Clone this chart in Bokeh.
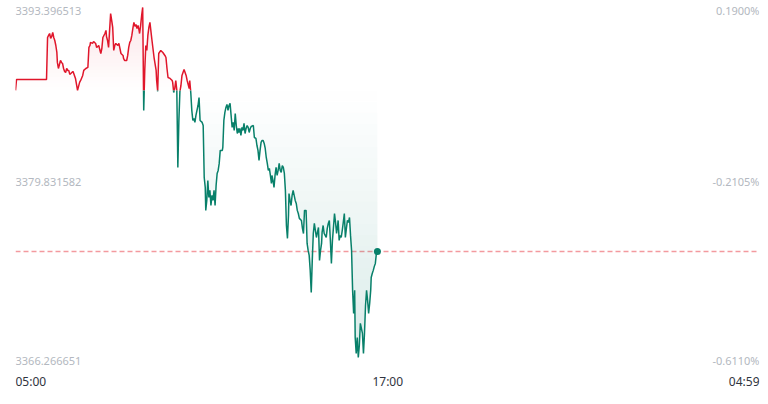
import numpy as np
from bokeh.plotting import figure
from bokeh.models import Range1d, Span
from bokeh.embed import file_html
from bokeh.resources import INLINE
from bokeh.core.properties import value

# ---------------- data (minutes after 05:00, price) ----------------
minutes = [0, 2, 60, 62, 64, 66, 68, 70, 72, 74, 76, 78, 80, 81, 83, 85, 87, 89, 91, 93,
           95, 97, 99, 101, 103, 105, 107, 111, 112, 114, 116, 118, 120, 122, 124, 126, 130, 132, 136, 140,
           142, 144, 145, 149, 151, 155, 157, 161, 165, 167, 169, 173, 175, 176, 178, 180, 182, 184, 186, 188,
           190, 192, 194, 198, 200, 202, 204, 208, 209, 211, 215, 217, 219, 221, 223, 225, 227, 229, 231, 233,
           235, 237, 239, 240, 242, 244, 246, 248, 250, 252, 254, 256, 258, 260, 264, 268, 272, 273, 275, 277,
           281, 285, 289, 291, 293, 295, 299, 303, 304, 306, 308, 310, 312, 314, 316, 318, 320, 322, 326, 330,
           332, 336, 337, 339, 341, 343, 345, 347, 349, 353, 355, 357, 361, 363, 365, 367, 368, 370, 372, 374,
           376, 378, 380, 382, 384, 386, 388, 390, 392, 394, 396, 400, 401, 403, 405, 407, 409, 411, 413, 415,
           417, 419, 421, 423, 425, 427, 429, 431, 432, 434, 436, 438, 440, 442, 444, 446, 448, 450, 452, 454,
           456, 460, 462, 465, 467, 469, 471, 473, 475, 477, 479, 481, 483, 485, 487, 489, 491, 493, 495, 496,
           498, 500, 502, 504, 506, 508, 510, 512, 514, 516, 518, 520, 522, 524, 526, 528, 529, 531, 533, 535,
           537, 539, 541, 543, 545, 547, 549, 553, 555, 557, 559, 562, 564, 566, 568, 570, 572, 574, 576, 578,
           580, 582, 584, 586, 588, 590, 592, 593, 595, 597, 599, 601, 603, 605, 607, 609, 611, 613, 615, 617,
           619, 621, 623, 624, 626, 628, 630, 632, 634, 636, 638, 640, 642, 644, 646, 648, 650, 652, 654, 656,
           657, 659, 661, 663, 665, 667, 669, 671, 673, 675, 677, 679, 681, 683, 685, 687, 688, 690, 692, 694,
           696, 698, 700]

prices = [3386.97, 3387.82, 3387.82, 3391.07, 3391.23, 3391.38, 3391.00, 3391.15, 3391.46, 3391.07,
          3390.84, 3390.45, 3389.91, 3389.14, 3388.67, 3388.98, 3389.29, 3389.14, 3389.06, 3388.67,
          3388.44, 3388.36, 3388.67, 3388.52, 3388.52, 3388.21, 3388.28, 3388.44, 3388.36, 3388.13,
          3387.90, 3387.43, 3386.97, 3387.28, 3387.59, 3387.74, 3388.13, 3388.52, 3388.67, 3388.75,
          3390.30, 3390.45, 3390.69, 3390.61, 3390.76, 3390.61, 3390.30, 3390.45, 3389.83, 3390.22,
          3391.07, 3391.38, 3391.62, 3391.15, 3390.84, 3390.30, 3391.62, 3392.93, 3392.39, 3391.85,
          3390.07, 3390.45, 3390.61, 3390.45, 3390.61, 3390.22, 3389.83, 3389.68, 3389.45, 3389.29,
          3389.29, 3389.68, 3390.30, 3390.69, 3390.84, 3391.23, 3391.77, 3392.24, 3391.93, 3392.08,
          3391.77, 3392.00, 3391.62, 3391.38, 3392.00, 3392.78, 3393.40, 3385.42, 3388.52, 3390.45,
          3390.07, 3391.23, 3391.85, 3392.24, 3390.84, 3389.52, 3388.52, 3387.74, 3386.90, 3389.83,
          3390.07, 3389.91, 3389.68, 3389.52, 3388.67, 3387.97, 3387.90, 3387.74, 3387.59, 3386.81,
          3387.12, 3387.74, 3386.97, 3381.00, 3384.64, 3386.90, 3387.35, 3388.13, 3388.59, 3388.13,
          3387.74, 3387.12, 3387.74, 3386.81, 3385.42, 3384.64, 3384.80, 3384.49, 3385.03, 3385.80,
          3386.42, 3384.64, 3384.49, 3384.25, 3380.22, 3379.45, 3377.67, 3378.44, 3379.99, 3378.67,
          3379.22, 3378.05, 3378.83, 3378.44, 3379.22, 3378.05, 3379.60, 3380.53, 3380.77, 3381.31,
          3382.32, 3382.32, 3382.55, 3384.64, 3385.26, 3385.65, 3385.88, 3385.42, 3385.80, 3385.96,
          3385.03, 3384.10, 3384.49, 3383.87, 3385.18, 3384.25, 3383.63, 3384.02, 3383.71, 3384.02,
          3383.48, 3384.10, 3383.87, 3384.41, 3383.63, 3384.02, 3384.25, 3384.10, 3383.71, 3384.02,
          3384.18, 3384.25, 3383.32, 3383.25, 3382.70, 3382.32, 3381.54, 3382.32, 3382.94, 3383.09,
          3383.09, 3382.86, 3382.47, 3381.77, 3381.31, 3380.77, 3380.92, 3380.38, 3379.76, 3380.38,
          3379.99, 3379.45, 3380.38, 3381.00, 3380.38, 3380.77, 3381.31, 3380.77, 3380.61, 3381.15,
          3381.00, 3380.53, 3379.22, 3376.50, 3375.50, 3377.28, 3378.98, 3378.44, 3378.05, 3378.83,
          3379.22, 3378.83, 3378.44, 3378.21, 3377.67, 3377.43, 3377.05, 3376.89, 3376.27, 3375.88,
          3377.67, 3377.67, 3375.11, 3374.57, 3374.18, 3373.02, 3371.31, 3373.79, 3375.88, 3376.66,
          3376.12, 3375.57, 3375.96, 3376.35, 3373.79, 3374.57, 3375.11, 3375.96, 3376.50, 3375.88,
          3375.73, 3375.57, 3376.27, 3376.66, 3376.89, 3375.34, 3373.56, 3375.34, 3376.35, 3377.43,
          3376.74, 3375.88, 3376.50, 3376.89, 3375.34, 3375.73, 3375.57, 3376.12, 3376.74, 3377.43,
          3375.57, 3376.27, 3376.89, 3376.74, 3377.12, 3375.73, 3374.57, 3371.47, 3369.68, 3371.47,
          3367.82, 3366.58, 3367.82, 3366.27, 3367.20, 3368.91, 3368.52, 3368.13, 3366.58, 3368.13,
          3370.30, 3371.47, 3370.69, 3369.68, 3370.46, 3371.47, 3372.47, 3372.78, 3373.02, 3373.33,
          3373.56, 3374.33, 3374.49]

prev_close = 3386.9613
y_tick_values = [3393.396513, 3379.831582, 3366.266651]
y_tick_labels = ["3393.396513", "3379.831582", "3366.266651"]
pct_tick_labels = ["0.1900%", "-0.2105%", "-0.6110%"]
x_tick_minutes = [0, 720, 1439]
x_tick_labels = ["05:00", "17:00", "04:59"]

RED = "#e0162b"
GREEN = "#08806a"
GREEN_FILL = "#0b7f6d"

# ---------------- geometry ----------------
W, H = 760, 396
ymax, ymin = y_tick_values[0], y_tick_values[-1]
top_px, bot_px = 7.0, 357.0
upp = (ymax - ymin) / (bot_px - top_px)
y_end = ymax + top_px * upp
y_start = ymin - (H - bot_px) * upp

p = figure(width=W, height=H, x_range=Range1d(0, 1439), y_range=Range1d(y_start, y_end),
           output_backend="svg", toolbar_location=None, x_axis_type=None, y_axis_type=None,
           min_border_left=15, min_border_right=1, min_border_top=0, min_border_bottom=0)
p.grid.visible = False
p.outline_line_color = None
p.background_fill_color = "white"
p.border_fill_color = "white"

# ---------------- split line at previous close ----------------
t = np.array(minutes, float)
v = np.array(prices, float)
base = prev_close
tt, vv = [t[0]], [v[0]]
for i in range(1, len(t)):
    a, b = v[i - 1] - base, v[i] - base
    if a * b < 0:
        tc = t[i - 1] + (t[i] - t[i - 1]) * a / (a - b)
        tt.append(tc)
        vv.append(base)
    tt.append(t[i])
    vv.append(v[i])
tt = np.array(tt)
vv = np.array(vv)

# gradient-like fills: non-overlapping horizontal bands, alpha growing away from prev close
td = np.union1d(tt, np.linspace(t[0], t[-1], 1401))
vd = np.interp(td, tt, vv)
N = 24
hi = np.maximum(vd, base)
lo = np.minimum(vd, base)
rstep = (ymax - base) / N
gstep = (base - ymin) / N
for k in range(N):
    frac = (k + 0.5) / N
    r1, r2 = base + k * rstep, base + (k + 1) * rstep
    p.varea(x=td, y1=np.minimum(hi, r1), y2=np.minimum(hi, r2),
            fill_color=RED, fill_alpha=0.12 * frac)
    g1, g2 = base - k * gstep, base - (k + 1) * gstep
    p.varea(x=td, y1=np.maximum(lo, g2), y2=np.maximum(lo, g1),
            fill_color=GREEN_FILL, fill_alpha=0.15 * frac)

last_price = prices[-1]
p.add_layout(Span(location=last_price, dimension="width", line_color="#f39a9f",
                  line_width=1.5, line_dash="5 3", level="underlay"))

eps = 1e-9
red_y = np.where(vv >= base - eps, vv, np.nan)
green_y = np.where(vv <= base + eps, vv, np.nan)
p.line(tt, red_y, line_color=RED, line_width=1.5)
p.line(tt, green_y, line_color=GREEN, line_width=1.5)
p.scatter([minutes[-1]], [last_price], size=7, color=GREEN, line_width=0)

# ---------------- labels ----------------
FONT = value("Noto Sans")
offsets = [3, -1, 3]
for val, lab, pct, off in zip(y_tick_values, y_tick_labels, pct_tick_labels, offsets):
    p.text(x=[0], y=[val], text=[lab], text_font=FONT, text_font_size="11px",
           text_color="#b3b8c0", text_align="left", text_baseline="middle", y_offset=off)
    p.text(x=[1439], y=[val], text=[pct], text_font=FONT, text_font_size="11px",
           text_color="#b3b8c0", text_align="right", text_baseline="middle", y_offset=off)

x_label_y = y_start + (H - 381) * upp
aligns = ["left", "center", "right"]
for m, lab, al in zip(x_tick_minutes, x_tick_labels, aligns):
    p.text(x=[m], y=[x_label_y], text=[lab], text_font=FONT, text_font_size="12px",
           text_color="#2f3440", text_align=al, text_baseline="middle")

open("out.html", "w").write(file_html(p, INLINE))
